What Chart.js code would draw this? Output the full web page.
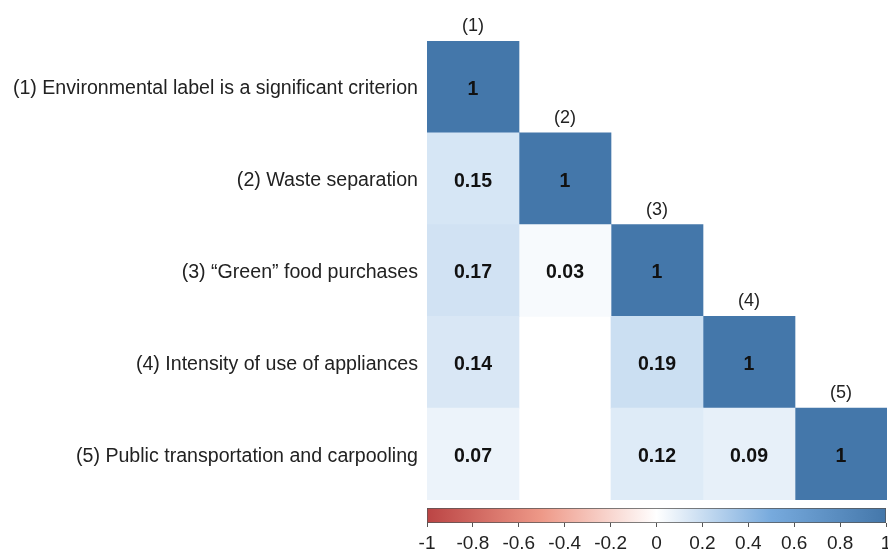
<!DOCTYPE html>
<html>
<head>
<meta charset="utf-8">
<script src="https://cdn.jsdelivr.net/npm/chart.js@4.4.1/dist/chart.umd.min.js"></script>
<style>
  html, body { margin: 0; padding: 0; background: #fff; overflow: hidden; }
  #wrap { position: relative; width: 888px; height: 551px; }
  #matrix { position: absolute; left: 0; top: 0; }
  #legendBar { position: absolute; left: 0; top: 500px; }
</style>
</head>
<body>
<div id="wrap">
  <canvas id="matrix" width="888" height="551"></canvas>
  <canvas id="legendBar" width="900" height="51"></canvas>
</div>
<script>
// Row labels (variables) and short column headers
const rowLabels = [
    '(1) Environmental label is a significant criterion',
    '(2) Waste separation',
    '(3) \u201cGreen\u201d food purchases',
    '(4) Intensity of use of appliances',
    '(5) Public transportation and carpooling'
];
const colLabels = ['(1)', '(2)', '(3)', '(4)', '(5)'];

// Correlations, one array per column (top to bottom), null = blank cell
const col1 = [1, 0.15, 0.17, 0.14, 0.07];
const col2 = [null, 1, 0.03, null, null];
const col3 = [null, null, 1, 0.19, 0.12];
const col4 = [null, null, null, 1, 0.09];
const col5 = [null, null, null, null, 1];
const columns = [col1, col2, col3, col4, col5];

// Colour bar ticks
const barTicks = [-1, -0.8, -0.6, -0.4, -0.2, 0, 0.2, 0.4, 0.6, 0.8, 1];

// palette: red -> white -> blue
const paletteStops = [
    { v: -1, c: [0xBB, 0x44, 0x44] },
    { v: -0.5, c: [0xEE, 0x99, 0x88] },
    { v: 0, c: [0xFF, 0xFF, 0xFF] },
    { v: 0.5, c: [0x77, 0xAA, 0xDD] },
    { v: 1, c: [0x44, 0x77, 0xAA] }
];

function colourFor(v) {
    for (let i = 0; i < paletteStops.length - 1; i++) {
        const a = paletteStops[i], b = paletteStops[i + 1];
        if (v >= a.v && v <= b.v) {
            const t = (v - a.v) / (b.v - a.v);
            const c = a.c.map((x, k) => Math.round(x + (b.c[k] - x) * t));
            return `rgb(${c[0]}, ${c[1]}, ${c[2]})`;
        }
    }
    return '#fff';
}

const fontName = 'Liberation Sans, Arial, sans-serif';

// floating horizontal bars, one dataset per column
const datasets = columns.map((col, c) => ({
    label: colLabels[c],
    data: col.map(v => v == null ? null : [c, c + 1]),
    values: col,
    backgroundColor: col.map(v => v == null ? 'rgba(0,0,0,0)' : colourFor(v)),
    borderWidth: 0,
    grouped: false,
    barPercentage: 1,
    categoryPercentage: 1
}));

// draws the numbers in the cells and the (k) headers above the diagonal
const cellText = {
    id: 'cellText',
    afterDatasetsDraw(chart) {
        const ctx = chart.ctx;
        ctx.save();
        ctx.textAlign = 'center';
        ctx.textBaseline = 'middle';
        chart.data.datasets.forEach((ds, c) => {
            const meta = chart.getDatasetMeta(c);
            ds.values.forEach((v, r) => {
                if (v == null) return;
                const el = meta.data[r];
                const cx = (el.x + el.base) / 2;
                ctx.fillStyle = '#111';
                ctx.font = 'bold 19.5px ' + fontName;
                ctx.fillText(String(v), cx, el.y + 2.5);
                if (r === c) {
                    ctx.fillStyle = '#222';
                    ctx.font = '18px ' + fontName;
                    ctx.fillText(colLabels[c], cx, el.y - el.height / 2 - 15);
                }
            });
        });
        ctx.restore();
    }
};

new Chart(document.getElementById('matrix'), {
    type: 'bar',
    data: { labels: rowLabels, datasets: datasets },
    options: {
        indexAxis: 'y',
        responsive: false,
        animation: false,
        layout: { padding: { top: 41, bottom: 51, right: 1, left: 0 } },
        scales: {
            x: { type: 'linear', min: 0, max: 5, display: false },
            y: {
                grid: { display: false, drawTicks: false },
                border: { display: false },
                ticks: { color: '#222', font: { family: fontName, size: 19.6 }, padding: 9, labelOffset: 2 },
                afterFit(scale) { scale.width = 427; }
            }
        },
        plugins: { legend: { display: false }, tooltip: { enabled: false } }
    },
    plugins: [cellText]
});

// colour bar under the matrix
new Chart(document.getElementById('legendBar'), {
    type: 'bar',
    data: {
        labels: ['scale'],
        datasets: [{
            data: [[barTicks[0], barTicks[barTicks.length - 1]]],
            backgroundColor(context) {
                const chart = context.chart;
                if (!chart.chartArea) return null;
                const xs = chart.scales.x;
                const g = chart.ctx.createLinearGradient(xs.getPixelForValue(-1), 0, xs.getPixelForValue(1), 0);
                paletteStops.forEach(s => g.addColorStop((s.v + 1) / 2, colourFor(s.v)));
                return g;
            },
            borderColor: '#555',
            borderWidth: 1,
            borderSkipped: false,
            barPercentage: 1,
            categoryPercentage: 1
        }]
    },
    options: {
        indexAxis: 'y',
        responsive: false,
        animation: false,
        layout: { padding: { top: 8, left: 427, right: 14, bottom: 0 } },
        scales: {
            y: { display: false },
            x: {
                type: 'linear',
                min: -1,
                max: 1,
                afterBuildTicks(scale) { scale.ticks = barTicks.map(v => ({ value: v })); },
                grid: { drawOnChartArea: false, drawTicks: true, tickLength: 4, color: '#555' },
                border: { display: false },
                ticks: {
                    autoSkip: false,
                    maxRotation: 0,
                    padding: 5,
                    color: '#222',
                    font: { family: fontName, size: 19 },
                    callback: v => String(Math.round(v * 10) / 10)
                },
                afterFit(scale) { scale.height = 28; }
            }
        },
        plugins: { legend: { display: false }, tooltip: { enabled: false } }
    }
});
</script>
</body>
</html>
